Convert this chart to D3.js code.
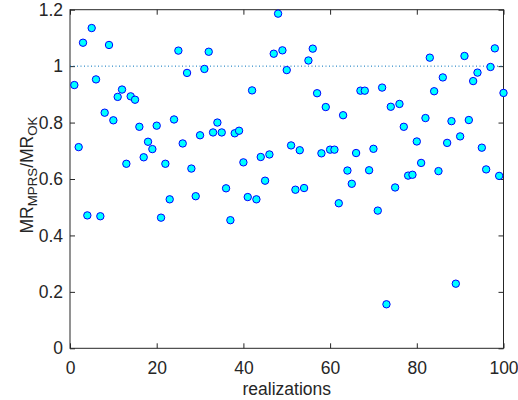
<!DOCTYPE html>
<html>
<head>
<meta charset="utf-8">
<script src="https://cdn.jsdelivr.net/npm/d3@7"></script>
<style>
  html, body { margin: 0; padding: 0; background: #fff; }
  svg { display: block; font-family: "Liberation Sans", Arial, sans-serif; }
</style>
</head>
<body>
<svg id="chart" width="518" height="400"></svg>
<script>
// Realization index (1..100)
const realizations = d3.range(1, 101);

// Ratio MR_MPRS / MR_OK per realization
const ratio = [
  0.933, 0.713, 1.083, 0.471, 1.135, 0.953, 0.468, 0.835, 1.075, 0.808,
  0.891, 0.917, 0.654, 0.893, 0.881, 0.785, 0.677, 0.732, 0.706, 0.789,
  0.463, 0.654, 0.528, 0.811, 1.055, 0.726, 0.976, 0.637, 0.539, 0.755,
  0.990, 1.051, 0.765, 0.800, 0.765, 0.567, 0.454, 0.762, 0.771, 0.659,
  0.536, 0.914, 0.528, 0.678, 0.594, 0.687, 1.044, 1.186, 1.056, 0.986,
  0.719, 0.562, 0.702, 0.568, 1.020, 1.062, 0.904, 0.691, 0.855, 0.704,
  0.704, 0.514, 0.826, 0.630, 0.583, 0.692, 0.913, 0.913, 0.631, 0.707,
  0.488, 0.924, 0.156, 0.856, 0.570, 0.866, 0.785, 0.612, 0.615, 0.733,
  0.657, 0.816, 1.030, 0.911, 0.628, 0.960, 0.728, 0.805, 0.229, 0.751,
  1.036, 0.809, 0.947, 0.977, 0.711, 0.634, 0.997, 1.063, 0.611, 0.905
];

// Axis ticks
const xTicks = [0, 20, 40, 60, 80, 100];
const yTicks = [0, 0.2, 0.4, 0.6, 0.8, 1, 1.2];
const reference = [1];

const svg = d3.select("#chart");
const m = { left: 70, right: 503.5, top: 9.7, bottom: 348.3 };
const axisColor = "#262626";
const tickFont = 17.5;
const labelFont = 17.5;

const x = d3.scaleLinear().domain([0, 100]).range([m.left, m.right]);
const y = d3.scaleLinear().domain([0, 1.2]).range([m.bottom, m.top]);

const tickLen = 5;
const fmt = d => d3.format("~g")(d);

// Bottom axis (labels, inward ticks)
svg.append("g")
  .attr("transform", `translate(0,${m.bottom})`)
  .call(d3.axisBottom(x).tickValues(xTicks).tickSize(-tickLen).tickPadding(13).tickFormat(fmt))
  .call(g => g.select(".domain").remove())
  .call(g => g.selectAll("line").attr("stroke", axisColor))
  .call(g => g.selectAll("text").attr("font-size", tickFont).attr("fill", axisColor)
              .attr("font-family", "Liberation Sans, Arial, sans-serif"));

// Top axis (ticks only)
svg.append("g")
  .attr("transform", `translate(0,${m.top})`)
  .call(d3.axisTop(x).tickValues(xTicks).tickSize(-tickLen).tickFormat(""))
  .call(g => g.select(".domain").remove())
  .call(g => g.selectAll("line").attr("stroke", axisColor));

// Left axis
svg.append("g")
  .attr("transform", `translate(${m.left},0)`)
  .call(d3.axisLeft(y).tickValues(yTicks).tickSize(-tickLen).tickPadding(7).tickFormat(fmt))
  .call(g => g.select(".domain").remove())
  .call(g => g.selectAll("line").attr("stroke", axisColor))
  .call(g => g.selectAll("text").attr("font-size", tickFont).attr("fill", axisColor)
              .attr("font-family", "Liberation Sans, Arial, sans-serif"));

// Right axis (ticks only)
svg.append("g")
  .attr("transform", `translate(${m.right},0)`)
  .call(d3.axisRight(y).tickValues(yTicks).tickSize(-tickLen).tickFormat(""))
  .call(g => g.select(".domain").remove())
  .call(g => g.selectAll("line").attr("stroke", axisColor));

// Plot frame
svg.append("rect")
  .attr("x", m.left).attr("y", m.top)
  .attr("width", m.right - m.left).attr("height", m.bottom - m.top)
  .attr("fill", "none").attr("stroke", axisColor).attr("stroke-width", 1);

// Reference line at ratio = 1
svg.selectAll("line.ref").data(reference).enter().append("line")
  .attr("class", "ref")
  .attr("x1", x(0)).attr("x2", x(100))
  .attr("y1", d => y(d)).attr("y2", d => y(d))
  .attr("stroke", "#0072BD").attr("stroke-width", 1)
  .attr("stroke-dasharray", "1,2.5");

// Scatter points
svg.append("g").selectAll("circle")
  .data(realizations.map((r, i) => ({ r, v: ratio[i] })))
  .enter().append("circle")
  .attr("cx", d => x(d.r))
  .attr("cy", d => y(d.v))
  .attr("r", 3.7)
  .attr("fill", "#00FFFF")
  .attr("stroke", "#0000FF")
  .attr("stroke-width", 1);

// X label
svg.append("text")
  .attr("x", (m.left + m.right) / 2).attr("y", 395)
  .attr("text-anchor", "middle")
  .attr("font-size", labelFont).attr("fill", axisColor)
  .text("realizations");

// Y label with subscripts
const yl = svg.append("text")
  .attr("transform", `translate(32.5,175) rotate(-90)`)
  .attr("text-anchor", "middle")
  .attr("font-size", labelFont).attr("fill", axisColor);
yl.append("tspan").text("MR");
yl.append("tspan").attr("font-size", 13.3).attr("dy", 4.5).text("MPRS");
yl.append("tspan").attr("dy", -4.5).text("/MR");
yl.append("tspan").attr("font-size", 13.3).attr("dy", 4.5).text("OK");
</script>
</body>
</html>
